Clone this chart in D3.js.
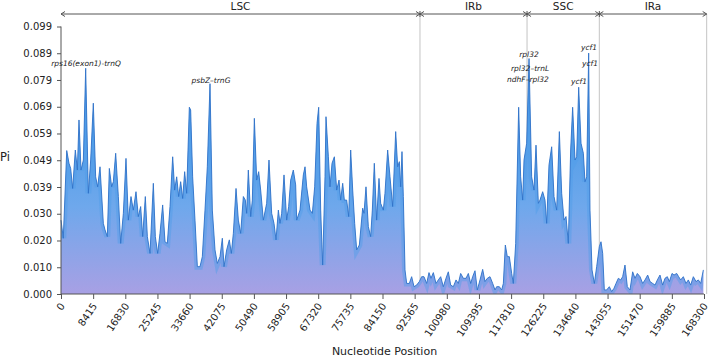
<!DOCTYPE html>
<html>
<head>
<meta charset="utf-8">
<script src="https://cdn.jsdelivr.net/npm/d3@7"></script>
<style>
body { margin: 0; background: #fff; }
text { font-family: "DejaVu Sans", sans-serif; fill: #222; }
.axis path, .axis line { stroke: #555; }
.gene { font-style: italic; font-size: 7.5px; }
</style>
</head>
<body>
<div id="chart"></div>
<script>
var w = 709;
var h = 358;

// sliding window Pi: [nucleotide position, Pi]
var windowPi = [
  [0,0.0273],[600,0.0206],[1500,0.0530],[2090,0.0483],[2530,0.0464],[3050,0.0390],[3750,0.0532],[4280,0.0458],[4710,0.0643],[5240,0.0458],
  [5850,0.0495],[6460,0.0834],[7160,0.0372],[7770,0.0495],[8460,0.0705],[9070,0.0433],[9600,0.0396],[10210,0.0470],[11080,0.0261],[11520,0.0237],
  [12130,0.0212],[12650,0.0464],[13260,0.0396],[13700,0.0415],[14310,0.0520],[15010,0.0360],[15620,0.0187],[16320,0.0298],[17010,0.0501],[17630,0.0273],
  [18320,0.0360],[18930,0.0310],[19630,0.0378],[20240,0.0286],[20850,0.0323],[21380,0.0212],[22070,0.0360],[22600,0.0212],[23300,0.0150],[24170,0.0409],
  [24690,0.0212],[25300,0.0150],[25910,0.0224],[26610,0.0329],[27220,0.0193],[27830,0.0187],[28530,0.0323],[29230,0.0507],[29750,0.0384],[30280,0.0433],
  [30800,0.0360],[31320,0.0415],[31850,0.0353],[32370,0.0452],[32890,0.0372],[33590,0.0690],[33940,0.0680],[34460,0.0433],[35070,0.0273],[35690,0.0101],
  [36380,0.0101],[36990,0.0138],[37690,0.0310],[38300,0.0470],[39000,0.0777],[39610,0.0310],[40310,0.0163],[40920,0.0113],[41620,0.0138],[42230,0.0206],
  [42670,0.0101],[43360,0.0163],[44060,0.0200],[44590,0.0150],[45110,0.0224],[45810,0.0390],[46420,0.0273],[47030,0.0224],[47730,0.0360],[48250,0.0347],
  [48600,0.0298],[49030,0.0458],[49650,0.0286],[50080,0.0347],[50610,0.0649],[51220,0.0421],[51740,0.0452],[52260,0.0384],[52960,0.0273],[53830,0.0335],
  [54440,0.0495],[55140,0.0298],[55750,0.0261],[56280,0.0200],[56890,0.0310],[57320,0.0261],[57760,0.0298],[58370,0.0440],[59070,0.0273],[59590,0.0323],
  [60120,0.0421],[60810,0.0458],[61420,0.0403],[61690,0.0273],[62560,0.0310],[63430,0.0440],[63870,0.0470],[64300,0.0396],[65180,0.0310],[65790,0.0298],
  [66400,0.0396],[67010,0.0630],[67450,0.0690],[67970,0.0310],[68490,0.0107],[69100,0.0433],[69360,0.0655],[69980,0.0507],[70410,0.0396],[70940,0.0483],
  [71550,0.0507],[72160,0.0384],[72770,0.0421],[73200,0.0347],[73730,0.0409],[74160,0.0347],[74770,0.0347],[75300,0.0286],[75820,0.0532],[76350,0.0384],
  [76870,0.0261],[77390,0.0163],[78090,0.0181],[78960,0.0317],[79310,0.0298],[79830,0.0396],[80440,0.0249],[81050,0.0212],[81490,0.0310],[82010,0.0483],
  [82620,0.0273],[83230,0.0427],[83670,0.0335],[84370,0.0310],[84800,0.0372],[85500,0.0532],[86110,0.0433],[86810,0.0323],[87600,0.0600],[88120,0.0470],
  [88560,0.0489],[88910,0.0396],[89250,0.0526],[89600,0.0360],[90040,0.0089],[90480,0.0039],[91170,0.0039],[91780,0.0064],[92400,0.0027],[93090,0.0033],
  [93790,0.0046],[94400,0.0064],[95010,0.0064],[95710,0.0039],[96320,0.0079],[96840,0.0058],[97460,0.0079],[98150,0.0039],[98760,0.0052],[99380,0.0064],
  [100070,0.0027],[100770,0.0058],[101380,0.0082],[101990,0.0033],[102690,0.0027],[103390,0.0052],[104000,0.0039],[104610,0.0076],[105310,0.0058],[106010,0.0058],
  [106620,0.0076],[107230,0.0039],[107750,0.0064],[108360,0.0086],[108970,0.0015],[109670,0.0052],[110370,0.0091],[110980,0.0046],[111590,0.0058],[112290,0.0064],
  [112990,0.0039],[113600,0.0015],[114030,0.0027],[114730,0.0027],[115340,0.0015],[115780,0.0039],[116300,0.0181],[116820,0.0138],[117350,0.0138],[117960,0.0076],
  [118390,0.0039],[119010,0.0187],[119790,0.0690],[120310,0.0433],[120840,0.0347],[121190,0.0495],[121880,0.0557],[122500,0.0870],[123190,0.0433],[123800,0.0384],
  [124330,0.0550],[124940,0.0335],[125370,0.0347],[126070,0.0378],[126680,0.0347],[127120,0.0261],[127730,0.0477],[128430,0.0544],[129040,0.0360],[129740,0.0310],
  [130440,0.0600],[131050,0.0372],[131660,0.0273],[132180,0.0286],[132790,0.0187],[133400,0.0532],[133920,0.0690],[134540,0.0495],[134970,0.0507],[135500,0.0764],
  [136110,0.0557],[136720,0.0520],[137150,0.0415],[137590,0.0433],[138110,0.0890],[138460,0.0310],[138990,0.0089],[139600,0.0039],[140210,0.0101],[140900,0.0175],
  [141340,0.0193],[141780,0.0150],[142210,0.0015],[142820,0.0015],[143520,0.0027],[144130,0.0009],[144740,0.0021],[145270,0.0039],[145880,0.0058],[146490,0.0052],
  [147010,0.0064],[147620,0.0107],[148230,0.0027],[148930,0.0015],[149630,0.0082],[150240,0.0058],[150850,0.0076],[151550,0.0064],[152250,0.0039],[152860,0.0052],
  [153560,0.0070],[154170,0.0046],[154860,0.0039],[155480,0.0033],[156090,0.0052],[156780,0.0070],[157480,0.0033],[158090,0.0058],[158700,0.0064],[159230,0.0046],
  [159930,0.0076],[160450,0.0070],[161150,0.0076],[161670,0.0064],[162190,0.0052],[162890,0.0064],[163590,0.0039],[164200,0.0052],[164810,0.0033],[165510,0.0064],
  [166210,0.0046],[166820,0.0052],[167430,0.0039],[168130,0.0089]
];

// regions (start / end in bp)
var regionNames = ["LSC", "IRb", "SSC", "IRa"];
var regionStarts = [0, 93960, 121980, 140900];
var regionEnds = [93960, 121980, 140900, 169000];

var xTicks = [0, 8415, 16830, 25245, 33660, 42075, 50490, 58905, 67320, 75735, 84150,
  92565, 100980, 109395, 117810, 126225, 134640, 143055, 151470, 159885, 168300];
var yTicks = [0, 0.00988, 0.01977, 0.02965, 0.03953, 0.04942, 0.0593, 0.06918, 0.07907, 0.08895, 0.09883];
var yTickLabels = ["0.000", "0.010", "0.020", "0.030", "0.039", "0.049", "0.059", "0.069", "0.079", "0.089", "0.099"];

// hotspot annotations
var geneNames = ["rps16(exon1)-trnQ", "psbZ\u2013trnG", "rpl32", "rpl32\u2013trnL", "ndhF\u2013rpl32", "ycf1", "ycf1", "ycf1"];
var genePos = [6540, 39260, 122490, 122760, 122230, 138200, 138460, 135580];
var geneLabelPi = [0.0842, 0.0779, 0.0875, 0.0824, 0.0783, 0.0901, 0.0842, 0.0776];

var svg = d3.select("#chart").append("svg").attr("width", w).attr("height", h);

var xScale = d3.scaleLinear().domain([0, 168300]).range([61, 704]);
var yScale = d3.scaleLinear().domain([0, 0.09883]).range([294, 26.5]);

var defs = svg.append("defs");
var grad = defs.append("linearGradient")
  .attr("id", "piFill")
  .attr("gradientUnits", "userSpaceOnUse")
  .attr("x1", 0).attr("y1", yScale(0.065)).attr("x2", 0).attr("y2", yScale(0));
grad.append("stop").attr("offset", "0%").attr("stop-color", "#4a9ae6");
grad.append("stop").attr("offset", "50%").attr("stop-color", "#6ea8ec");
grad.append("stop").attr("offset", "100%").attr("stop-color", "#a8a0e4");

defs.append("clipPath").attr("id", "areaClip")
  .append("path")
  .datum(windowPi)
  .attr("d", d3.area()
    .x(function (d) { return xScale(d[0]); })
    .y0(yScale(0))
    .y1(function (d) { return yScale(d[1]); }));

// region boundary lines
svg.selectAll(".boundary")
  .data(regionEnds)
  .enter().append("line")
  .attr("class", "boundary")
  .attr("x1", function (d) { return xScale(d); })
  .attr("x2", function (d) { return xScale(d); })
  .attr("y1", 14)
  .attr("y2", yScale(0))
  .attr("stroke", "#c4c4c4")
  .attr("stroke-width", 1);

// ******Area graph *****
var area = d3.area()
  .x(function (d) { return xScale(d[0]); })
  .y0(function () { return yScale.range()[0]; })
  .y1(function (d) { return yScale(d[1]); });

svg.append("path")
  .datum(windowPi)
  .attr("d", area)
  .attr("fill", "url(#piFill)");

var line = d3.line()
  .x(function (d) { return xScale(d[0]); })
  .y(function (d) { return yScale(d[1]); });

// soft blue band along the top edge of the area
svg.append("path")
  .datum(windowPi)
  .attr("d", line)
  .attr("clip-path", "url(#areaClip)")
  .attr("fill", "none")
  .attr("stroke", "#4f9ee8")
  .attr("stroke-opacity", 0.45)
  .attr("stroke-width", 6);

svg.append("path")
  .datum(windowPi)
  .attr("d", line)
  .attr("fill", "none")
  .attr("stroke", "#2f72c8")
  .attr("stroke-width", 0.9);

//**************Axis**************
var xAxis = d3.axisBottom(xScale).tickValues(xTicks).tickSize(5).tickFormat(d3.format("d"));
var gx = svg.append("g").attr("class", "axis").attr("transform", "translate(0," + yScale(0) + ")").call(xAxis);
gx.select(".domain").attr("d", "M" + xScale(0) + ",0H" + xScale(168300));
gx.selectAll("text")
  .attr("font-size", 10)
  .attr("font-family", "DejaVu Sans")
  .attr("fill", "#222")
  .attr("text-anchor", "end")
  .attr("x", 0)
  .attr("y", 0)
  .attr("dy", "0.35em")
  .attr("transform", "translate(1,10) rotate(-56)");

var yAxis = d3.axisLeft(yScale).tickValues(yTicks).tickSize(4)
  .tickFormat(function (d, i) { return yTickLabels[i]; });
var gy = svg.append("g").attr("class", "axis").attr("transform", "translate(61,0)").call(yAxis);
gy.select(".domain").attr("d", "M0," + yScale(0.09883) + "V" + yScale(0));
gy.selectAll("text")
  .attr("font-size", 10)
  .attr("font-family", "DejaVu Sans")
  .attr("fill", "#222")
  .attr("x", -9);

svg.append("text")
  .attr("x", 0)
  .attr("y", 157)
  .attr("dy", "0.35em")
  .attr("font-size", 11.5)
  .text("Pi");

svg.append("text")
  .attr("x", xScale(84150) + 2)
  .attr("y", 355)
  .attr("text-anchor", "middle")
  .attr("font-size", 11)
  .text("Nucleotide Position");

// ***** region bracket *****
var bracketY = 14;
svg.append("line")
  .attr("x1", xScale(regionStarts[0]))
  .attr("x2", xScale(regionEnds[3]))
  .attr("y1", bracketY).attr("y2", bracketY)
  .attr("stroke", "#555").attr("stroke-width", 1);

regionStarts.forEach(function (s, i) {
  var x0 = xScale(s), x1 = xScale(regionEnds[i]);
  // arrowheads
  svg.append("path")
    .attr("d", "M" + (x0 + 4) + "," + (bracketY - 2.5) + "L" + x0 + "," + bracketY + "L" + (x0 + 4) + "," + (bracketY + 2.5))
    .attr("fill", "none").attr("stroke", "#555");
  svg.append("path")
    .attr("d", "M" + (x1 - 4) + "," + (bracketY - 2.5) + "L" + x1 + "," + bracketY + "L" + (x1 - 4) + "," + (bracketY + 2.5))
    .attr("fill", "none").attr("stroke", "#555");
  if (i > 0) {
    svg.append("line")
      .attr("x1", x0).attr("x2", x0)
      .attr("y1", bracketY - 3).attr("y2", bracketY + 3)
      .attr("stroke", "#555");
  }
  svg.append("text")
    .attr("x", (x0 + x1) / 2)
    .attr("y", bracketY - 4)
    .attr("text-anchor", "middle")
    .attr("font-size", 10.5)
    .text(regionNames[i]);
});

// ***** hotspot annotation *****
svg.selectAll(".gene")
  .data(geneNames)
  .enter().append("text")
  .attr("class", "gene")
  .attr("x", function (d, i) { return xScale(genePos[i]); })
  .attr("y", function (d, i) { return yScale(geneLabelPi[i]); })
  .attr("text-anchor", "middle")
  .text(function (d) { return d; });
</script>
</body>
</html>
